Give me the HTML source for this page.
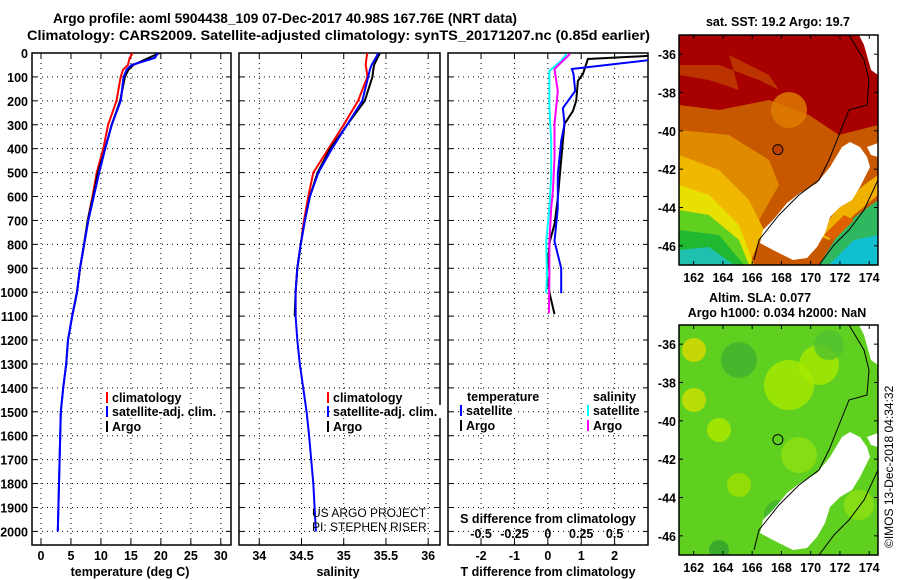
<!DOCTYPE html>
<html><head><meta charset="utf-8"><style>
html,body{margin:0;padding:0;background:#fff;}
svg{display:block;font-family:"Liberation Sans",sans-serif;}
.b{font-weight:bold;font-size:13px;}
.t{font-weight:bold;font-size:12.5px;}
</style></head><body>
<svg id="c" width="900" height="580" viewBox="0 0 900 580">
<text class="b" x="53" y="23" textLength="464" lengthAdjust="spacingAndGlyphs" style="font-size:14px">Argo profile: aoml 5904438_109 07-Dec-2017 40.98S 167.76E (NRT data)</text>
<text class="b" x="27" y="40" textLength="623" lengthAdjust="spacingAndGlyphs" style="font-size:14px">Climatology: CARS2009. Satellite-adjusted climatology: synTS_20171207.nc (0.85d earlier)</text>
<g id="maps"></g>
<g id="plots"></g>
</svg>
<script>
// ---- data ----
const depthTicks=[0,100,200,300,400,500,600,700,800,900,1000,1100,1200,1300,1400,1500,1600,1700,1800,1900,2000];
const tempTicks=[0,5,10,15,20,25,30];
const salTicks=[34,34.5,35,35.5,36];
const tdiffTicks=[-2,-1,0,1,2];
const sdiffLabels=["-0.5","-0.25","0","0.25","0.5"];
const depthDeep=[0,20,50,70,100,200,300,400,500,600,700,800,900,1000,1100];
const depthFull=[0,20,50,70,100,200,300,400,500,600,700,800,900,1000,1100,1200,1300,1400,1500,1600,1800,2000];
const tempArgo=[19.8,18,15.4,14.6,14,13.2,11.8,10.7,9.5,8.7,7.8,7.2,6.5,6,5.2];
const tempClim=[15.3,14.8,14.5,13.7,13.3,12.6,11.2,10.4,9.3,8.6,7.8,7.2,6.5,6,5.2];
const tempSat=[19.5,19,15.1,14.3,13.8,13.3,11.8,10.7,9.7,8.8,7.9,7.2,6.5,6,5.2,4.5,4.2,3.7,3.3,3.2,3,2.8];
const salArgo=[35.43,35.4,35.36,35.35,35.34,35.25,35.04,34.84,34.69,34.6,34.54,34.49,34.45,34.43,34.42];
const salClim=[35.28,35.27,35.26,35.27,35.28,35.17,35.0,34.82,34.64,34.58,34.53,34.49,34.45,34.43,34.43];
const salSat=[35.41,35.38,35.33,35.31,35.29,35.22,35.04,34.86,34.7,34.6,34.54,34.49,34.45,34.43,34.43,34.45,34.48,34.52,34.56,34.59,34.64,34.67];
const dDepthArgoT=[12,25,88,117,200,243,297,368,507,607,716,787,925,1008,1092];
const tDiffArgo=[3,1.2,1.05,0.9,0.85,0.75,0.5,0.45,0.36,0.3,0.2,0.06,-0.03,0.06,0.2];
const dDepthSatT=[30,67,88,159,230,297,368,507,649,787,900,1004];
const tDiffSat=[3,0.72,0.77,0.82,0.45,0.5,0.4,0.3,0.3,0.2,0.4,0.4];
const dDepthArgoS=[4,67,159,297,439,577,649,787,925,1088];
const sDiffArgo=[0.165,0.05,0.075,0.05,0.05,0.038,0.025,0.012,0.012,0.008];
const dDepthSatS=[4,33,75,230,368,507,649,787,925,1004];
const sDiffSat=[0.14,0.1,0.012,0.012,0.025,0.025,0.012,-0.012,-0.006,-0.012];
const mapLonTicks=[162,164,166,168,170,172,174];
const mapLatTicks=[-36,-38,-40,-42,-44,-46];
const argoPos=[167.76,-40.98];

const NS='http://www.w3.org/2000/svg';
function mk(tag,at,parent,txt){const e=document.createElementNS(NS,tag);for(const k in at)e.setAttribute(k,at[k]);if(txt!==undefined)e.textContent=txt;parent.appendChild(e);return e;}
const plots=document.getElementById('plots');
const top0=53,bot0=545;
const yD=d=>53+d*0.2392;
const panels=[
 {x0:32,x1:231,v0:-1.5,v1:31.7,ticks:tempTicks,title:"temperature (deg C)",tx:130},
 {x0:239,x1:440,v0:33.76,v1:36.14,ticks:salTicks,title:"salinity",tx:338},
 {x0:448,x1:648,v0:-2.99,v1:3.0,ticks:tdiffTicks,title:"T difference from climatology",tx:548}
];
panels.forEach((p,i)=>{
 p.x=v=>p.x0+(v-p.v0)/(p.v1-p.v0)*(p.x1-p.x0);
 const g=mk('g',{},plots);
 
 
 const cp=mk('clipPath',{id:'cp'+i},g);mk('rect',{x:p.x0,y:top0,width:p.x1-p.x0,height:bot0-top0},cp);
 depthTicks.forEach(d=>{if(d>0){const l=mk('line',{x1:p.x0,x2:p.x1,y1:yD(d),y2:yD(d),stroke:'#000','stroke-width':1,'stroke-dasharray':'1,4'},g);
   }
  mk('line',{x1:p.x0,x2:p.x0+5,y1:yD(d),y2:yD(d),stroke:'#000'},g);mk('line',{x1:p.x1-5,x2:p.x1,y1:yD(d),y2:yD(d),stroke:'#000'},g);});
 p.ticks.forEach((t,j)=>{const x=p.x(t);
  const l=mk('line',{x1:x,x2:x,y1:top0,y2:bot0,stroke:'#000','stroke-dasharray':'1,4'},g);
  
  mk('line',{x1:x,x2:x,y1:bot0-6,y2:bot0,stroke:'#000'},g);mk('line',{x1:x,x2:x,y1:top0,y2:top0+6,stroke:'#000'},g);
  const tl=mk('text',{x:x,y:560,'text-anchor':'middle',class:'t'},g,String(t));
  
  if(i==2){const sl=mk('text',{x:x,y:538,'text-anchor':'middle',class:'t'},g,sdiffLabels[j]);
   }
 });
 const fr=mk('rect',{x:p.x0,y:top0,width:p.x1-p.x0,height:bot0-top0,fill:'none',stroke:'#000','stroke-width':1.5},g);
 
 const at=mk('text',{x:p.tx,y:576,'text-anchor':'middle',class:'t'},g,p.title);
 
 p.g=g;
});
depthTicks.forEach(d=>{const t=mk('text',{x:28,y:yD(d)+5,'text-anchor':'end',class:'t'},plots,String(d));
 });
function line(pi,vals,deps,color,name,scale){const p=panels[pi];const s=scale||1;
 const pts=vals.map((v,k)=>p.x(v*s).toFixed(1)+','+yD(deps[k]).toFixed(1)).join(' ');
 const l=mk('polyline',{points:pts,fill:'none',stroke:color,'stroke-width':2,'clip-path':'url(#cp'+pi+')'},p.g);
 }
line(0,tempClim,depthDeep,'#f00','temp-climatology-line');
line(0,tempSat,depthFull,'#00f','temp-satellite-line');
line(0,tempArgo,depthDeep,'#000','temp-argo-line');
line(0,tempSat,depthFull,'#00f','temp-satellite-line-top');
line(1,salClim,depthDeep,'#f00','sal-climatology-line');
line(1,salArgo,depthDeep,'#000','sal-argo-line');
line(1,salSat,depthFull,'#00f','sal-satellite-line');
line(2,tDiffArgo,dDepthArgoT,'#000','tdiff-argo-line');
line(2,tDiffSat,dDepthSatT,'#00f','tdiff-satellite-line');
line(2,sDiffSat,dDepthSatS,'#0ff','sdiff-satellite-line',4);
line(2,sDiffArgo,dDepthArgoS,'#f0f','sdiff-argo-line',4);
// legends
function leg(x,y,color,txt,name,w){const g=mk('g',{},plots);
 mk('rect',{x:x,y:y-10,width:2,height:11,fill:color},g);
 mk('rect',{x:x+5,y:y-11,width:w,height:13,fill:'#fff'},g);
 mk('text',{x:x+6,y:y,class:'t'},g,txt);}
leg(106,402,'#f00','climatology','legend-climatology',72);
leg(106,416,'#00f','satellite-adj. clim.','legend-satellite',110);
leg(106,431,'#000','Argo','legend-argo',30);
leg(327,402,'#f00','climatology','legend2-climatology',72);
leg(327,416,'#00f','satellite-adj. clim.','legend2-satellite',110);
leg(327,431,'#000','Argo','legend2-argo',30);
[['temperature',467,401,74],['salinity',593,401,48]].forEach(a=>{mk('rect',{x:a[1]-1,y:a[2]-11,width:a[3],height:13,fill:'#fff'},plots);
 const t=mk('text',{x:a[1],y:a[2],class:'t'},plots,a[0]);});
leg(460,415,'#00f','satellite','legend3-t-satellite',52);
leg(460,430,'#000','Argo','legend3-t-argo',30);
leg(587,415,'#0ff','satellite','legend3-s-satellite',52);
leg(587,430,'#f0f','Argo','legend3-s-argo',30);
mk('rect',{x:457,y:511,width:182,height:13,fill:'#fff'},plots);
let tt=mk('text',{x:548,y:523,'text-anchor':'middle',class:'t'},plots,'S difference from climatology');

tt=mk('text',{x:312,y:517,style:'font-size:12px'},plots,'US ARGO PROJECT');
tt=mk('text',{x:312,y:531,style:'font-size:12px'},plots,'PI: STEPHEN RISER');

// ---- maps ----
const maps=document.getElementById('maps');
const MW=199,MH=230;
const nz=[[171,107],[181,112],[188,122],[191,132],[181,152],[173,165],[161,172],[151,182],[146,198],[138,212],[128,223],[114,225],[94,215],[81,208],[84,195],[94,185],[108,168],[121,158],[138,148],[151,132],[163,112]];
function drawMap(ox,oy,kind,name){
 const g=mk('g',{transform:'translate('+ox+','+oy+')'},maps);
 
 const cp=mk('clipPath',{id:'mc'+kind},g);mk('rect',{x:0,y:0,width:MW,height:MH},cp);
 const gg=mk('g',{'clip-path':'url(#mc'+kind+')'},g);
 if(kind==0){
  mk('rect',{x:0,y:0,width:MW,height:MH,fill:'#c85800'},gg);
  mk('path',{d:'M0 0H199V90L160 100 130 80 90 65 40 75 0 70Z',fill:'#a80000'},gg);
  mk('path',{d:'M0 40L30 45 60 55 50 20 90 40 100 55 80 45 40 30 0 30Z',fill:'#c04000',opacity:0.8},gg);
  mk('circle',{cx:110,cy:75,r:18,fill:'#e08000',opacity:0.8},gg);
  mk('path',{d:'M0 95L50 100 90 125 100 150 80 185 50 200 0 200Z',fill:'#e08a00'},gg);
  mk('path',{d:'M0 120L40 135 70 165 85 195 70 230 0 230Z',fill:'#f0b800'},gg);
  mk('path',{d:'M0 150L30 160 60 190 75 230 0 230Z',fill:'#e8e000'},gg);
  mk('path',{d:'M0 175L30 180 60 205 70 230 0 230Z',fill:'#60d020'},gg);
  mk('path',{d:'M0 195L40 200 65 230 0 230Z',fill:'#20b830'},gg);
  mk('path',{d:'M0 215L30 212 55 230 0 230Z',fill:'#20c0b0'},gg);
  mk('path',{d:'M140 230L165 190 199 165V230Z',fill:'#30b860'},gg);
  mk('path',{d:'M150 230L175 205 199 200V230Z',fill:'#10c0d0'},gg);
  mk('path',{d:'M138 200L160 172 185 150 199 140V160L175 180 150 205Z',fill:'#f0b000'},gg);
  mk('path',{d:'M145 200L165 180 175 185 155 205Z',fill:'#e06000'},gg);
 } else {
  mk('rect',{x:0,y:0,width:MW,height:MH,fill:'#60d020'},gg);
  [[15,25,12,'#e0d800'],[15,75,12,'#d0e000'],[110,60,25,'#a8e800'],[140,40,20,'#a8e800'],[40,105,12,'#b0e800'],[60,160,12,'#a0e000'],[120,130,18,'#90e010'],[180,180,15,'#90e010'],[60,35,18,'#40b030'],[100,190,15,'#40b030'],[40,225,10,'#30a030'],[150,20,15,'#50c030']].forEach(c=>mk('circle',{cx:c[0],cy:c[1],r:c[2],fill:c[3],opacity:0.8},gg));
 }
 mk('polygon',{points:nz.map(p=>p.join(',')).join(' '),fill:'#fff'},gg);
 mk('path',{d:'M180 0L199 0V40L192 35 185 10Z',fill:'#fff'},gg);
 mk('path',{d:'M188 112L199 108V122L192 120Z',fill:'#fff'},gg);
 mk('polyline',{points:'170,0 185,25 190,45 188,70 170,75 160,100 150,125 140,145 120,160 100,180 80,205 75,225',fill:'none',stroke:'#000','stroke-width':1},gg);
 mk('polyline',{points:'199,145 185,175 170,195 155,210 140,230',fill:'none',stroke:'#000','stroke-width':1},gg);
 const fr=mk('rect',{x:0,y:0,width:MW,height:MH,fill:'none',stroke:'#000','stroke-width':1.5},g);
 
 const lx=v=>(v-161.0)/(174.6-161.0)*MW, ly=v=>(-35.0-v)/12.0*MH;
 mapLonTicks.forEach(t=>{mk('line',{x1:lx(t),x2:lx(t),y1:MH,y2:MH-4,stroke:'#000'},g);mk('line',{x1:lx(t),x2:lx(t),y1:0,y2:4,stroke:'#000'},g);
  const tl=mk('text',{x:lx(t),y:MH+17,'text-anchor':'middle',class:'t'},g,String(t));});
 mapLatTicks.forEach(t=>{mk('line',{x1:0,x2:4,y1:ly(t),y2:ly(t),stroke:'#000'},g);mk('line',{x1:MW-4,x2:MW,y1:ly(t),y2:ly(t),stroke:'#000'},g);
  const tl=mk('text',{x:-3,y:ly(t)+5,'text-anchor':'end',class:'t'},g,String(t));});
 const dot=mk('circle',{cx:lx(argoPos[0]),cy:ly(argoPos[1]),r:5,fill:kind==0?'#c04000':'none',stroke:'#000','stroke-width':1},g);
 
}
drawMap(679,35,0,'sst-map');
drawMap(679,325,1,'sla-map');
function txt(x,y,s,name,anchor){const t=mk('text',{x:x,y:y,'text-anchor':anchor||'middle',class:'t'},maps,s);}
txt(778,26,'sat. SST: 19.2 Argo: 19.7','sst-map-title');
txt(760,302,'Altim. SLA: 0.077','sla-map-title');
txt(777,317,'Argo h1000: 0.034 h2000: NaN','argo-height-title');
const cr=mk('text',{x:0,y:0,transform:'translate(893,548) rotate(-90)',style:'font-size:12px'},maps,'©IMOS 13-Dec-2018 04:34:32');

</script>
</body></html>
